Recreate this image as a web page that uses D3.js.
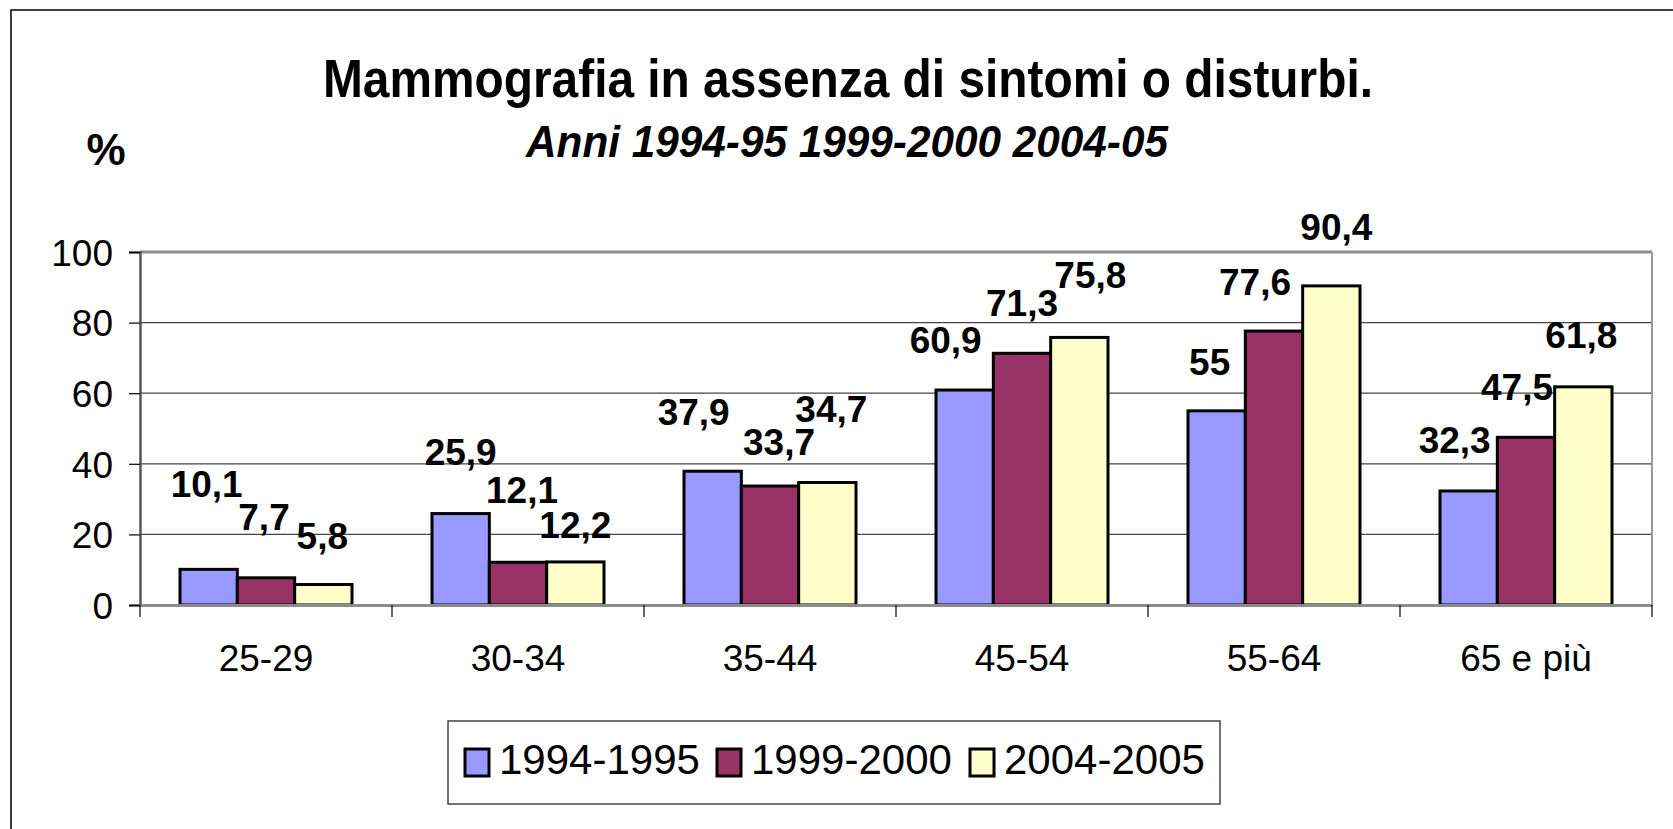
<!DOCTYPE html>
<html>
<head>
<meta charset="utf-8">
<script src="https://cdn.jsdelivr.net/npm/d3@7"></script>
<style>
  body { margin: 0; background: #fff; }
  text { font-family: "Liberation Sans", Arial, sans-serif; fill: #000; }
</style>
</head>
<body>
<div id="chart"></div>
<script>
// data
var categories = ["25-29", "30-34", "35-44", "45-54", "55-64", "65 e più"];
var series = ["1994-1995", "1999-2000", "2004-2005"];
var v1994 = [10.1, 25.9, 37.9, 60.9, 55, 32.3];
var v1999 = [7.7, 12.1, 33.7, 71.3, 77.6, 47.5];
var v2004 = [5.8, 12.2, 34.7, 75.8, 90.4, 61.8];
var yTicks = [0, 20, 40, 60, 80, 100];
var colors = ["#9999ff", "#993366", "#ffffcc"];

// hand placed label nudges (as in the original excel chart): [dx, lift above bar]
var labelDx = [[-2, -2, -1], [0, 4, 0], [-19, 9, 4], [-19, 0, 11], [-7, -19, 5], [-14, -9, -2]];
var labelLift = [[72, 48, 36], [49, 59, 24], [46, 31, 61], [37, 37, 49], [36, 36, 46], [38, 37, 39]];

var W = 1673, H = 829;
var plotL = 140, plotR = 1652, plotT = 252, plotB = 605;

var svg = d3.select("#chart").append("svg")
    .attr("width", W).attr("height", H);

// outer frame (cut off at right / bottom)
svg.append("rect")
    .attr("x", 11).attr("y", 10)
    .attr("width", 1700).attr("height", 900)
    .attr("fill", "none").attr("stroke", "#000").attr("stroke-width", 1.5);

var x = d3.scaleBand().domain(categories).range([plotL, plotR]);
var xs = d3.scaleBand().domain(series).range([40, x.bandwidth() - 40]);
var y = d3.scaleLinear().domain([0, 100]).range([plotB, plotT]);

var values = [v1994, v1999, v2004];
var rows = [];
categories.forEach(function(c, i) {
    series.forEach(function(s, j) {
        rows.push({cat: c, ser: s, v: values[j][i], i: i, j: j});
    });
});

// gridlines
svg.append("g").selectAll("line")
    .data(yTicks.filter(function(t) { return t > 0 && t < 100; }))
    .enter().append("line")
    .attr("x1", plotL).attr("x2", plotR)
    .attr("y1", function(d) { return y(d); })
    .attr("y2", function(d) { return y(d); })
    .attr("stroke", "#444").attr("stroke-width", 1.2);

// plot border (grey)
svg.append("line").attr("x1", plotL).attr("x2", plotR).attr("y1", plotT).attr("y2", plotT)
    .attr("stroke", "#8c8c8c").attr("stroke-width", 3);
svg.append("line").attr("x1", plotR).attr("x2", plotR).attr("y1", plotT).attr("y2", plotB)
    .attr("stroke", "#9a9a9a").attr("stroke-width", 2);

// y axis
var yAxis = d3.axisLeft(y).tickValues(yTicks).tickSize(11).tickPadding(16)
    .tickFormat(function(d) { return d; });
var gy = svg.append("g").attr("transform", "translate(" + plotL + ",0)").call(yAxis);
gy.select(".domain").attr("stroke", "#555").attr("stroke-width", 2.5);
gy.selectAll(".tick line").attr("stroke", "#000").attr("stroke-width", 1.2);
gy.selectAll(".tick text")
    .attr("font-size", 37).attr("dy", "0.36em").attr("fill", "#000")
    .attr("font-family", "Liberation Sans, Arial, sans-serif");

// bars
svg.append("g").selectAll("rect")
    .data(rows)
    .enter().append("rect")
    .attr("x", function(d) { return x(d.cat) + xs(d.ser); })
    .attr("y", function(d) { return y(d.v); })
    .attr("width", xs.bandwidth())
    .attr("height", function(d) { return y(0) - y(d.v); })
    .attr("fill", function(d) { return colors[d.j]; })
    .attr("stroke", "#000").attr("stroke-width", 3);

// x axis
var xAxis = d3.axisBottom(x).tickSize(0).tickPadding(40);
var gx = svg.append("g").attr("transform", "translate(0," + plotB + ")").call(xAxis);
gx.select(".domain").attr("stroke", "#8c8c8c").attr("stroke-width", 3);
gx.selectAll(".tick text")
    .attr("font-size", 37).attr("fill", "#000")
    .attr("font-family", "Liberation Sans, Arial, sans-serif");
svg.append("g").selectAll("line")
    .data(d3.range(categories.length + 1))
    .enter().append("line")
    .attr("x1", function(i) { return plotL + i * x.bandwidth(); })
    .attr("x2", function(i) { return plotL + i * x.bandwidth(); })
    .attr("y1", plotB).attr("y2", plotB + 12)
    .attr("stroke", "#000").attr("stroke-width", 1.2);

// data labels
svg.append("g").selectAll("text")
    .data(rows)
    .enter().append("text")
    .attr("x", function(d) { return x(d.cat) + xs(d.ser) + xs.bandwidth() / 2 + labelDx[d.i][d.j]; })
    .attr("y", function(d) { return y(d.v) - labelLift[d.i][d.j]; })
    .attr("text-anchor", "middle")
    .attr("font-size", 37).attr("font-weight", "bold")
    .text(function(d) { return String(d.v).replace(".", ","); });

// titles
svg.append("text")
    .attr("x", 848).attr("y", 97)
    .attr("text-anchor", "middle")
    .attr("font-size", 54).attr("font-weight", "bold")
    .attr("textLength", 1050).attr("lengthAdjust", "spacingAndGlyphs")
    .text("Mammografia in assenza di sintomi o disturbi.");
svg.append("text")
    .attr("x", 847).attr("y", 157)
    .attr("text-anchor", "middle")
    .attr("font-size", 44).attr("font-weight", "bold").attr("font-style", "italic")
    .attr("textLength", 642).attr("lengthAdjust", "spacingAndGlyphs")
    .text("Anni 1994-95 1999-2000 2004-05");
svg.append("text")
    .attr("x", 106).attr("y", 165)
    .attr("text-anchor", "middle")
    .attr("font-size", 44).attr("font-weight", "bold")
    .text("%");

// legend
var legend = svg.append("g");
legend.append("rect")
    .attr("x", 448).attr("y", 721).attr("width", 772).attr("height", 83)
    .attr("fill", "#fff").attr("stroke", "#444").attr("stroke-width", 1.5);
var legendX = [465, 717, 970];
var li = legend.selectAll("g.item")
    .data(series)
    .enter().append("g")
    .attr("class", "item")
    .attr("transform", function(d, i) { return "translate(" + legendX[i] + ",0)"; });
li.append("rect")
    .attr("x", 0).attr("y", 749).attr("width", 24).attr("height", 27)
    .attr("fill", function(d, i) { return colors[i]; })
    .attr("stroke", "#000").attr("stroke-width", 3);
li.append("text")
    .attr("x", 34).attr("y", 774)
    .attr("font-size", 42)
    .text(function(d) { return d; });
</script>
</body>
</html>
